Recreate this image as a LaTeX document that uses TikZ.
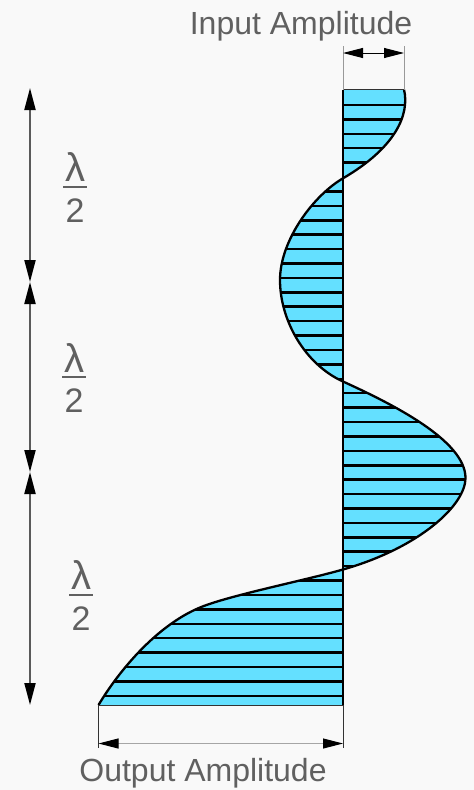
\documentclass[tikz,border=0pt]{standalone}
\usepackage{fontspec}
\setmainfont{Liberation Sans}
\usetikzlibrary{arrows.meta}
\definecolor{bg}{HTML}{F9F9F9}
\definecolor{wavefill}{HTML}{64E0FF}
\definecolor{txt}{HTML}{606060}
\definecolor{dimgray}{HTML}{5A5A5A}
\newcommand\wavecurve{.. controls (410,115) and (395,148) .. (343,178.3)
 .. controls (313.8,195.3) and (280,240) .. (280,280)
 .. controls (280,320) and (304.5,364) .. (343,381.5)
 .. controls (390,403) and (465.5,440) .. (465.5,478)
 .. controls (465.5,505) and (420,547.5) .. (343,569.5)
 .. controls (304.5,580.5) and (228.8,595.5) .. (200,607.5)
 .. controls (156.8,625.5) and (119.5,670) .. (98.5,705)}
\newcommand\fracl[1][40]{\vbox{\offinterlineskip\halign{\hfil##\hfil\cr
 {\fontsize{#1}{#1}\selectfont λ}\cr\noalign{\kern4pt}\rule{24pt}{2pt}\cr\noalign{\kern11pt}2\cr}}}
\begin{document}
\begin{tikzpicture}[x=1pt,y=-1pt,
  lab/.style={text=txt,font=\fontsize{32}{36}\selectfont,inner sep=0pt},
  fraclab/.style={text=txt,font=\fontsize{34}{38}\selectfont,inner sep=0pt},
  hatch/.style={line width=2.5pt,black},
  thin edge/.style={line width=0.8pt,black!80},
  extgray/.style={line width=0.8pt,black!40},
  bigtip/.style={{Triangle[length=22pt,width=11pt,color=black]}-{Triangle[length=22pt,width=11pt,color=black]}},
  smalltip/.style={{Triangle[length=20pt,width=10pt,color=black]}-{Triangle[length=20pt,width=10pt,color=black]}}]
\fill[bg] (0,0) rectangle (474,790);
\useasboundingbox (0,0) rectangle (474,790);
% key points
\coordinate (axT) at (343,89.5);
\coordinate (axB) at (343,705);
\coordinate (topR) at (404,89.5);
\coordinate (botL) at (98.5,705);
% wave body
\fill[wavefill] (axT) -- (topR) \wavecurve -- (axB) -- cycle;
\begin{scope}
\clip (axT) -- (topR) \wavecurve -- (axB) -- cycle;
\foreach \k in {0,...,41}
  \draw[hatch] (90,{105+14.41*\k}) -- (470,{105+14.41*\k});
\end{scope}
\draw[line width=2.3pt,line join=round] (topR) \wavecurve;
\draw[thin edge] (axT) -- (topR);
\draw[thin edge] (botL) -- (axB);
\draw[line width=2.5pt] (axT) -- (axB);
% input amplitude
\coordinate (ieL) at (343,46);
\coordinate (ieR) at (404,46);
\coordinate (iaL) at (343,53);
\coordinate (iaR) at (404,53);
\draw[extgray] (ieL) -- (axT);
\draw[extgray] (ieR) -- (topR);
\draw[smalltip,line width=1pt] (iaL) -- (iaR);
\node[lab,anchor=base] (inlab) at (301,34) {Input Amplitude};
% output amplitude
\coordinate (oeL) at (98.5,748);
\coordinate (oeR) at (343,748);
\coordinate (oaL) at (98.5,743.5);
\coordinate (oaR) at (343,743.5);
\draw[thin edge] (botL) -- (oeL);
\draw[thin edge] (axB) -- (oeR);
\draw[smalltip,line width=1pt,draw=black!35] (oaL) -- (oaR);
\node[lab,anchor=base] (outlab) at (203,781.5) {Output Amplitude};
% lambda/2 dimensions
\coordinate (d0) at (30,88);
\coordinate (d1) at (30,282);
\coordinate (d2) at (30,472);
\coordinate (d3) at (30,705);
\draw[bigtip,dimgray,line width=2pt] (d0) -- (d1);
\draw[bigtip,dimgray,line width=2pt] (d1) -- (d2);
\draw[bigtip,dimgray,line width=2pt] (d2) -- (d3);
\node[fraclab] (f1) at (75,187.5) {\fracl};
\node[fraclab] (f2) at (74,378) {\fracl};
\node[fraclab] (f3) at (81,595.5) {\fracl};
\end{tikzpicture}
\end{document}
